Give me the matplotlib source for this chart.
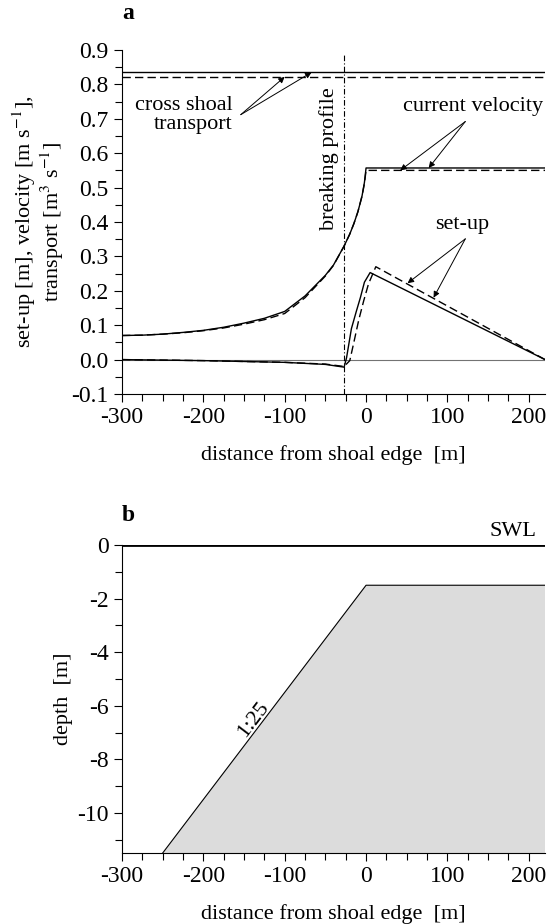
import matplotlib
matplotlib.use("Agg")
from matplotlib import pyplot as plt
from matplotlib.ticker import MultipleLocator, FormatStrFormatter

plt.rcParams['font.family'] = ['Liberation Serif', 'DejaVu Serif']
plt.rcParams['mathtext.fontset'] = 'stix'
plt.rcParams['axes.unicode_minus'] = False

# panel a data
x_range = [-300, 220]
transport_solid = 0.835
transport_dashed = 0.822

vel_x = [-300, -275, -250, -225, -200, -175, -150, -125, -100, -75, -50, -40, -27, -20, -15, -10, -5, -2, 0, 220]
vel_solid = [0.070, 0.071, 0.074, 0.079, 0.085, 0.094, 0.106, 0.120, 0.140, 0.185, 0.245, 0.275, 0.330, 0.365, 0.395, 0.430, 0.475, 0.515, 0.557, 0.557]
vel_dashed = [0.070, 0.071, 0.074, 0.078, 0.084, 0.092, 0.103, 0.116, 0.134, 0.180, 0.243, 0.274, 0.330, 0.365, 0.395, 0.430, 0.475, 0.512, 0.550, 0.550]

setup_x_solid = [-300, -200, -100, -50, -27, -24, -18, -12, -7, -2, 5, 220]
setup_solid = [0.0, -0.003, -0.008, -0.014, -0.022, 0.005, 0.09, 0.14, 0.18, 0.225, 0.253, 0.0]
setup_x_dashed = [-300, -200, -100, -50, -27, -20, -15, -9, -3, 3, 12, 220]
setup_dashed = [0.0, -0.003, -0.008, -0.013, -0.020, -0.003, 0.05, 0.115, 0.17, 0.22, 0.270, 0.0]

breaking_x = -27

# panel b data
swl = 0.0
shoal_x = [-250, 0, 220, 220]
shoal_z = [-11.5, -1.5, -1.5, -11.5]

fig = plt.figure(figsize=(5.48, 9.24), dpi=100)
ax = fig.add_axes([0.2226, 0.5736, 0.772, 0.3723])
bx = fig.add_axes([0.2226, 0.0768, 0.772, 0.3333])

fs = 16
tfs = 17
dash = (0, (6, 3))

# ---- panel a
ax.axhline(0, color='0.45', lw=0.8)
ax.plot(x_range, [transport_solid] * 2, 'k-', lw=1.0)
ax.plot(x_range, [transport_dashed] * 2, color='k', ls=dash, lw=1.0)
ax.plot(vel_x, vel_solid, 'k-', lw=1.0)
ax.plot(vel_x, vel_dashed, color='k', ls=dash, lw=1.0)
ax.plot(setup_x_solid, setup_solid, 'k-', lw=1.0)
ax.plot(setup_x_dashed, setup_dashed, color='k', ls=dash, lw=1.0)
ax.plot([breaking_x, breaking_x], [-0.1, 0.885], color='k', lw=0.8, ls=(0, (5, 2, 1, 2)))

ax.text(-45, 0.585, 'breaking profile', rotation=90, ha='center', va='center', fontsize=fs)

arrow = dict(arrowstyle='-|>', color='k', lw=0.7, mutation_scale=9, shrinkA=0, shrinkB=0)
ax.text(-164, 0.71, 'cross shoal\ntransport', ha='right', va='center', fontsize=fs, multialignment='right', linespacing=1.0)
ax.annotate('', xy=(-100, transport_dashed), xytext=(-154, 0.712), arrowprops=arrow)
ax.annotate('', xy=(-67, transport_solid), xytext=(-154, 0.712), arrowprops=arrow)

ax.text(131, 0.736, 'current velocity', ha='center', va='center', fontsize=fs)
ax.annotate('', xy=(42, 0.550), xytext=(122, 0.692), arrowprops=arrow)
ax.annotate('', xy=(77, 0.557), xytext=(122, 0.692), arrowprops=arrow)

ax.text(118, 0.393, 'set-up', ha='center', va='center', fontsize=fs)
ax.annotate('', xy=(51, 0.222), xytext=(122, 0.351), arrowprops=arrow)
ax.annotate('', xy=(83, 0.18), xytext=(122, 0.351), arrowprops=arrow)

ax.set_xlim(x_range)
ax.set_ylim(-0.1, 0.9)
ax.xaxis.set_major_locator(MultipleLocator(100))
ax.xaxis.set_minor_locator(MultipleLocator(25))
ax.yaxis.set_major_locator(MultipleLocator(0.1))
ax.yaxis.set_minor_locator(MultipleLocator(0.05))
ax.yaxis.set_major_formatter(FormatStrFormatter('%.1f'))
ax.set_xlabel('distance from shoal edge  [m]', fontsize=fs, labelpad=12)
ax.set_ylabel('set-up [m], velocity [m s$^{-1}$],\ntransport [m$^3$ s$^{-1}$]', fontsize=fs, linespacing=1.0, labelpad=4)
ax.text(-300, 0.99, 'a', fontsize=fs + 1, fontweight='bold')

# ---- panel b
bx.fill(shoal_x, shoal_z, facecolor='#dcdcdc', edgecolor='none')
bx.plot(shoal_x[:3], shoal_z[:3], 'k-', lw=0.8)
bx.axhline(swl, color='k', lw=2.0)
bx.text(180, 0.15, 'SWL', ha='center', va='bottom', fontsize=fs)
bx.text(-139, -6.5, '1:25', rotation=52.8, ha='center', va='center', fontsize=fs, rotation_mode='anchor')

bx.set_xlim(x_range)
bx.set_ylim(-11.5, 0)
bx.xaxis.set_major_locator(MultipleLocator(100))
bx.xaxis.set_minor_locator(MultipleLocator(25))
bx.yaxis.set_major_locator(MultipleLocator(2))
bx.yaxis.set_minor_locator(MultipleLocator(1))
bx.set_xlabel('distance from shoal edge  [m]', fontsize=fs, labelpad=12)
bx.set_ylabel('depth  [m]', fontsize=fs, labelpad=3)
bx.text(-300, 0.9, 'b', fontsize=fs + 1, fontweight='bold')

for a in (ax, bx):
    a.spines['top'].set_visible(False)
    a.spines['right'].set_visible(False)
    a.spines['left'].set_linewidth(0.8)
    a.spines['bottom'].set_linewidth(0.8)
    a.tick_params(which='both', direction='out', labelsize=tfs, width=0.8)
    a.tick_params(which='major', length=6)
    a.tick_params(which='minor', length=5)

plt.savefig('out.png', dpi=100)
